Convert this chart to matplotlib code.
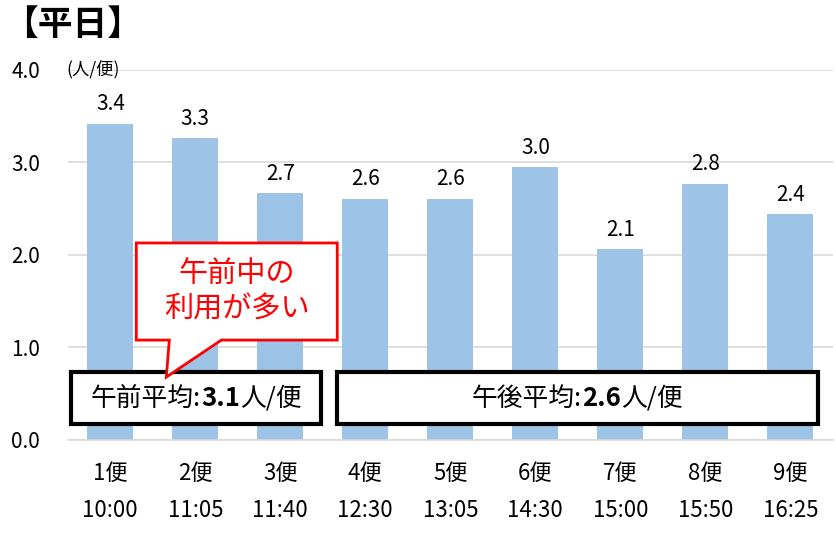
import numpy as np
import matplotlib.pyplot as plt
from matplotlib.patches import Rectangle, Polygon
from matplotlib.offsetbox import TextArea, HPacker, AnnotationBbox

plt.rcParams['font.family'] = ['Noto Sans CJK JP', 'DejaVu Sans']

# Data
trips  = ["1便", "2便", "3便", "4便", "5便", "6便", "7便", "8便", "9便"]
times  = ["10:00", "11:05", "11:40", "12:30", "13:05", "14:30", "15:00", "15:50", "16:25"]
riders = [3.42, 3.26, 2.67, 2.61, 2.61, 2.95, 2.06, 2.77, 2.44]
am_avg = 3.1
pm_avg = 2.6

bar_color = "#9DC3E6"

fig = plt.figure(figsize=(8.37, 5.33), dpi=100)
ax = fig.add_axes([0.081, 0.1745, 0.914, 0.6942])

x = np.arange(len(trips))
ax.bar(x, riders, width=0.54, color=bar_color, zorder=2)
for xi, v in zip(x, riders):
    ax.annotate(f"{v:.1f}", (xi, v), xytext=(0, 6), textcoords="offset points",
                ha="center", va="bottom", fontsize=15)

ax.set_xlim(-0.5, len(trips) - 0.5)
ax.set_ylim(0, 4)
ax.set_yticks([0, 1, 2, 3, 4])
ax.set_yticklabels([f"{t:.1f}" for t in [0, 1, 2, 3, 4]], fontsize=15)
ax.set_xticks(x)
ax.set_xticklabels([f"{a}\n{b}" for a, b in zip(trips, times)], fontsize=16, linespacing=1.75)
ax.tick_params(axis="both", length=0)
ax.tick_params(axis="y", pad=20)
ax.tick_params(axis="x", pad=16)
ax.grid(axis="y", color="#D9D9D9", linewidth=1.2, zorder=0)
for s in ["top", "right", "left"]:
    ax.spines[s].set_visible(False)
ax.spines["bottom"].set_color("#D9D9D9")
ax.spines["bottom"].set_linewidth(1.2)

ax.text(-0.52, 4.0, "(人/便)", fontsize=12.5, ha="left", va="center")
fig.text(0.004, 0.955, "【平日】", fontsize=25, fontweight="bold", ha="left", va="center")

# average boxes
def avg_box(x0, x1, y0, y1, label, value):
    ax.add_patch(Rectangle((x0, y0), x1 - x0, y1 - y0, facecolor="white",
                           edgecolor="black", linewidth=3, zorder=4))
    parts = [TextArea(label, textprops=dict(fontsize=18.5)),
             TextArea(f"{value:.1f}", textprops=dict(fontsize=18.5, fontweight="bold")),
             TextArea("人/便", textprops=dict(fontsize=18.5))]
    pack = HPacker(children=parts, align="baseline", pad=0, sep=0)
    ab = AnnotationBbox(pack, ((x0 + x1) / 2, (y0 + y1) / 2), frameon=False,
                        box_alignment=(0.5, 0.5), zorder=5)
    ax.add_artist(ab)

avg_box(-0.46, 2.48, 0.17, 0.735, "午前平均:", am_avg)
avg_box(2.67, 8.32, 0.17, 0.735, "午後平均:", pm_avg)

# callout bubble
bubble = [(0.306, 1.08), (0.694, 1.08), (0.659, 0.68), (1.306, 1.08),
          (2.67, 1.08), (2.67, 2.13), (0.306, 2.13)]
ax.add_patch(Polygon(bubble, closed=True, facecolor="white", edgecolor="#FF0000",
                     linewidth=2, zorder=6, joinstyle="miter"))
ax.text((0.306 + 2.67) / 2, (1.08 + 2.13) / 2, "午前中の\n利用が多い", color="#FF0000",
        fontsize=21, ha="center", va="center", linespacing=1.25, zorder=7)

fig.savefig("out.png", dpi=100)
